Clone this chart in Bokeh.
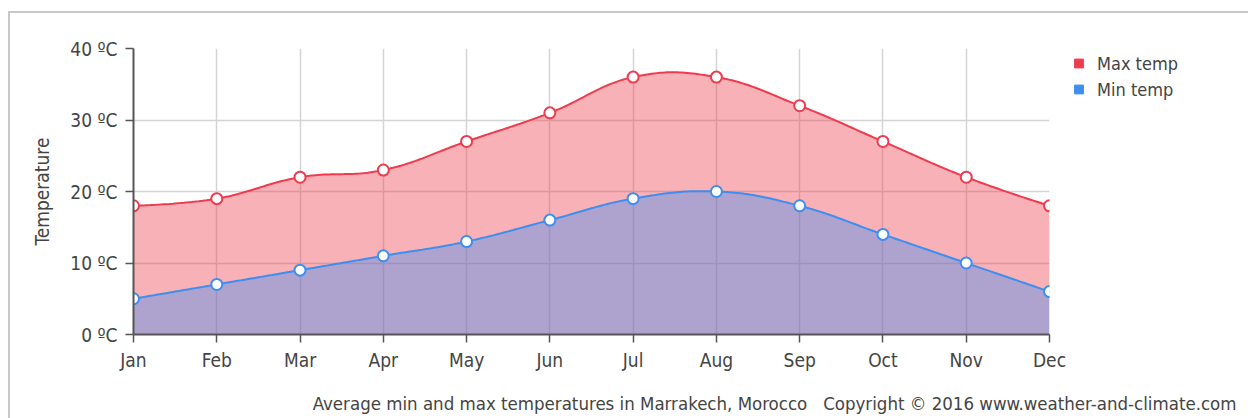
import numpy as np
from bokeh.plotting import figure
from bokeh.models import FixedTicker, Legend, LegendItem, Title
from bokeh.embed import file_html
from bokeh.resources import INLINE

months = ["Jan", "Feb", "Mar", "Apr", "May", "Jun", "Jul", "Aug", "Sep", "Oct", "Nov", "Dec"]
max_temp = [18, 19, 22, 23, 27, 31, 36, 36, 32, 27, 22, 18]
min_temp = [5, 7, 9, 11, 13, 16, 19, 20, 18, 14, 10, 6]
y_ticks = [0, 10, 20, 30, 40]
y_tick_labels = ["0 ºC", "10 ºC", "20 ºC", "30 ºC", "40 ºC"]
series_names = ["Max temp", "Min temp"]
footer = ("Average min and max temperatures in Marrakech, Morocco"
          "\u00a0\u00a0\u00a0Copyright © 2016 www.weather-and-climate.com")

RED = "#f03b4e"
BLUE = "#3d8ef0"
TEXT = "#444444"
FONT = "DejaVu Sans Condensed"
FS = "19px"
EDGE = "#c8c8c8"


def spline(ys, n=30):
    xs = list(range(len(ys)))
    k = len(ys)
    lc = [(xs[i], ys[i]) for i in range(k)]
    rc = [(xs[i], ys[i]) for i in range(k)]
    for i in range(1, k - 1):
        lcx = (1.5 * xs[i] + xs[i - 1]) / 2.5
        lcy = (1.5 * ys[i] + ys[i - 1]) / 2.5
        rcx = (1.5 * xs[i] + xs[i + 1]) / 2.5
        rcy = (1.5 * ys[i] + ys[i + 1]) / 2.5
        corr = ((rcy - lcy) * (rcx - xs[i])) / (rcx - lcx) + ys[i] - rcy
        lc[i] = (lcx, lcy + corr)
        rc[i] = (rcx, rcy + corr)
    px, py = [float(xs[0])], [float(ys[0])]
    t = np.linspace(0, 1, n + 1)[1:]
    for i in range(1, k):
        p0 = (xs[i - 1], ys[i - 1]); p1 = rc[i - 1]; p2 = lc[i]; p3 = (xs[i], ys[i])
        a, b, c, d = (1 - t) ** 3, 3 * (1 - t) ** 2 * t, 3 * (1 - t) * t ** 2, t ** 3
        px.extend(a * p0[0] + b * p1[0] + c * p2[0] + d * p3[0])
        py.extend(a * p0[1] + b * p1[1] + c * p2[1] + d * p3[1])
    return np.array(px), np.array(py)


p = figure(frame_width=916, frame_height=286,
           min_border_left=125, min_border_right=199, min_border_top=37, min_border_bottom=77,
           x_range=(0, 11), y_range=(0, 40),
           output_backend="svg", toolbar_location=None,
           styles={"margin": "11px 0px 0px 8px",
                   "background": (f"linear-gradient({EDGE},{EDGE}) 0 0 / 100% 2px no-repeat, "
                                  f"linear-gradient({EDGE},{EDGE}) 0 0 / 2px 100% no-repeat, white")})
p.outline_line_color = None
p.background_fill_color = "white"
p.border_fill_alpha = 0

xs = list(range(len(months)))
mx_x, mx_y = spline(max_temp)
mn_x, mn_y = spline(min_temp)

p.varea(x=mx_x, y1=0, y2=mx_y, fill_color=RED, fill_alpha=0.4)
p.varea(x=mn_x, y1=0, y2=mn_y, fill_color=BLUE, fill_alpha=0.4)
p.line(mx_x, mx_y, line_color=RED, line_width=2)
p.line(mn_x, mn_y, line_color=BLUE, line_width=2)
p.scatter(xs, max_temp, size=11, fill_color="white", line_color=RED, line_width=2)
p.scatter(xs, min_temp, size=11, fill_color="white", line_color=BLUE, line_width=2)

nan = float("nan")
leg_max = p.scatter(x=[nan], y=[nan], marker="square", size=9, fill_color=RED, line_color=RED)
leg_min = p.scatter(x=[nan], y=[nan], marker="square", size=9, fill_color=BLUE, line_color=BLUE)

# grids
p.xgrid.ticker = FixedTicker(ticks=xs)
p.ygrid.ticker = FixedTicker(ticks=y_ticks)
for g in (p.xgrid, p.ygrid):
    g.grid_line_color = "#d4d4d4"
    g.grid_line_width = 1.5

# axes
p.xaxis.ticker = FixedTicker(ticks=xs)
p.xaxis.major_label_overrides = {i: m for i, m in enumerate(months)}
p.yaxis.ticker = FixedTicker(ticks=y_ticks)
p.yaxis.major_label_overrides = {t: l for t, l in zip(y_ticks, y_tick_labels)}
for ax in (p.xaxis, p.yaxis):
    ax.axis_line_color = "#555555"
    ax.axis_line_width = 2
    ax.major_tick_line_color = "#555555"
    ax.major_tick_line_width = 1.5
    ax.major_tick_in = 0
    ax.major_tick_out = 8
    ax.minor_tick_line_color = None
    ax.major_label_text_font = FONT
    ax.major_label_text_font_size = FS
    ax.major_label_text_color = TEXT
p.xaxis.major_label_standoff = 6
p.yaxis.major_label_standoff = 8
p.yaxis.axis_label = "Temperature"
p.yaxis.axis_label_text_font = FONT
p.yaxis.axis_label_text_font_size = FS
p.yaxis.axis_label_text_font_style = "normal"
p.yaxis.axis_label_text_color = TEXT
p.yaxis.axis_label_standoff = 14

legend = Legend(items=[LegendItem(label=series_names[0], renderers=[leg_max]),
                       LegendItem(label=series_names[1], renderers=[leg_min])],
                location=(11, 234))
legend.margin = 0
legend.padding = 0
legend.spacing = 4
legend.glyph_width = 37
legend.glyph_height = 22
legend.label_standoff = 0
legend.label_text_font = FONT
legend.label_text_font_size = "18px"
legend.label_text_color = TEXT
legend.border_line_color = None
legend.background_fill_alpha = 0
p.add_layout(legend, "right")

p.add_layout(Title(text=footer, align="right", offset=-187, standoff=34,
                   text_font=FONT, text_font_size="18.5px", text_font_style="normal",
                   text_color=TEXT), "below")

open("out.html", "w").write(file_html(p, INLINE))
